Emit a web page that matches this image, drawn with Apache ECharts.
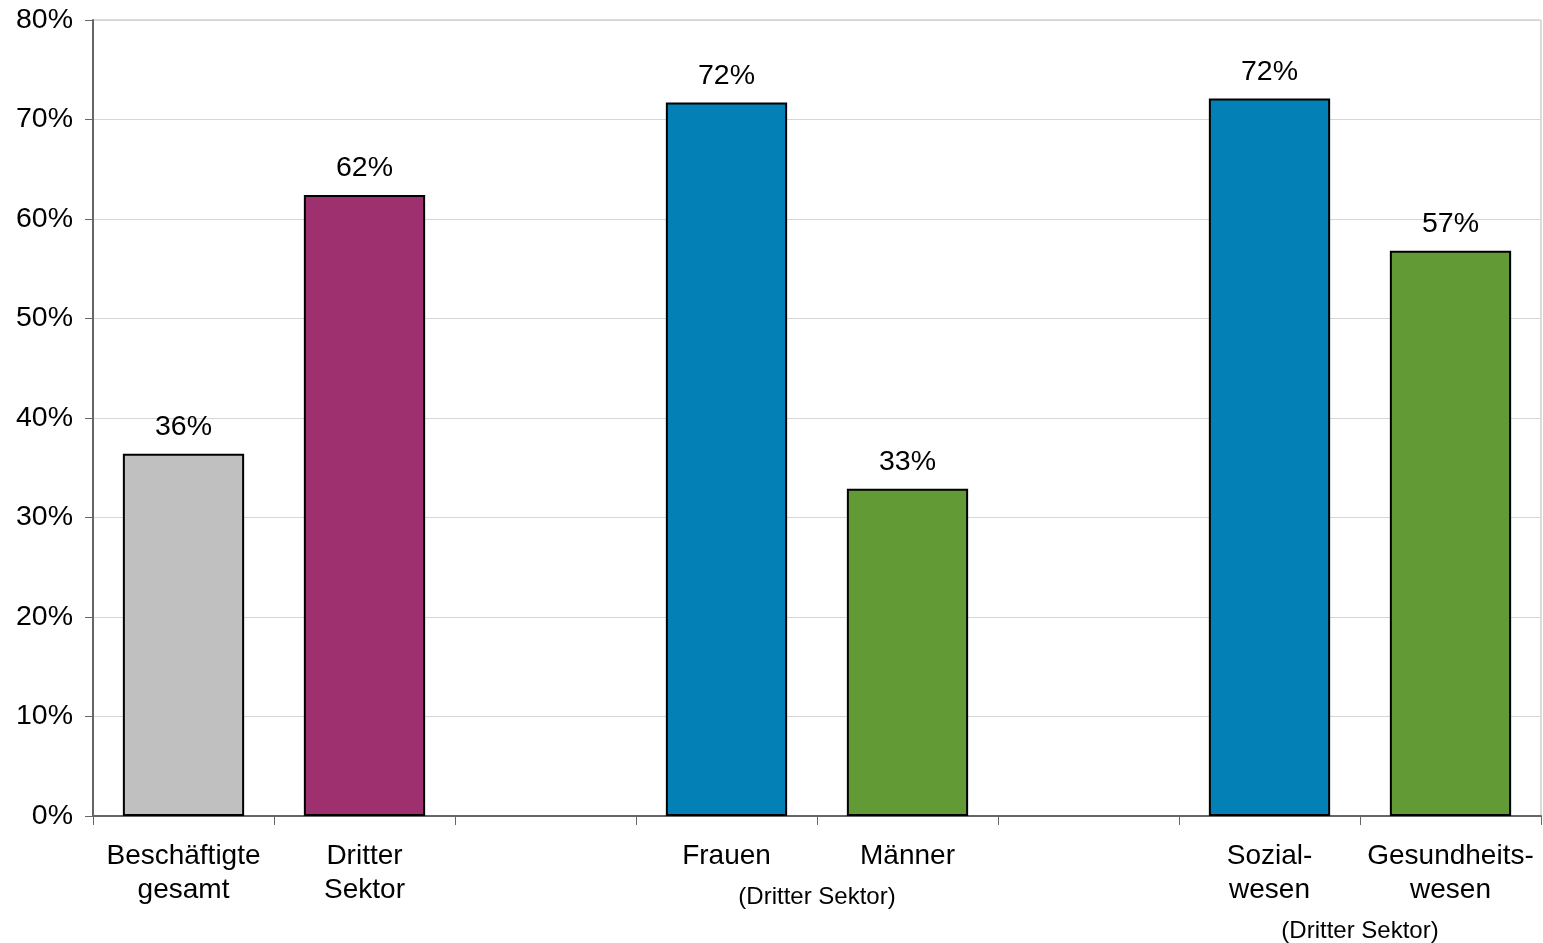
<!DOCTYPE html>
<html>
<head>
<meta charset="utf-8">
<script src="https://cdn.jsdelivr.net/npm/echarts@6/dist/echarts.min.js"></script>
<style>
html,body{margin:0;padding:0;background:#fff;}
#chart{width:1543px;height:943px;}
</style>
</head>
<body>
<div id="chart"></div>
<script>
// Data
const categories = ['Beschäftigte\ngesamt', 'Dritter\nSektor', '', 'Frauen', 'Männer', '', 'Sozial-\nwesen', 'Gesundheits-\nwesen'];
const values = [36.4, 62.4, null, 71.7, 32.9, null, 72.1, 56.8];
const barColors = ['#C0C0C0', '#9E3070', null, '#0380B6', '#629B35', null, '#0380B6', '#629B35'];
const yTicks = { min: 0, max: 80, interval: 10 };
// Group sub-labels: [text, firstCategoryIndex, secondCategoryIndex, line offset]
const groupLabels = [
  ['(Dritter Sektor)', 3, 4, 1],
  ['(Dritter Sektor)', 6, 7, 2]
];

const FONT = '"Liberation Sans", Arial, sans-serif';
const chart = echarts.init(document.getElementById('chart'), null, { renderer: 'canvas' });

const option = {
  backgroundColor: '#ffffff',
  animation: false,
  grid: { left: 93, right: 2, top: 20, bottom: 127, show: true, borderColor: '#b8b8b8', borderWidth: 1, backgroundColor: 'transparent' },
  xAxis: {
    type: 'category',
    data: categories,
    boundaryGap: true,
    axisLine: { show: true, lineStyle: { color: '#666', width: 2 } },
    axisTick: { show: true, interval: 0, alignWithLabel: false, length: 9, lineStyle: { color: '#666', width: 1 } },
    axisLabel: { interval: 0, color: '#000', fontFamily: FONT, fontSize: 28, lineHeight: 34, margin: 23 },
    splitLine: { show: false }
  },
  yAxis: {
    type: 'value',
    min: yTicks.min, max: yTicks.max, interval: yTicks.interval,
    axisLine: { show: true, lineStyle: { color: '#666', width: 2 } },
    axisTick: { show: true, inside: false, length: 8, lineStyle: { color: '#666' } },
    axisLabel: { formatter: '{value}%', color: '#000', fontFamily: FONT, fontSize: 28.5, margin: 20 },
    splitLine: { show: true, lineStyle: { color: '#d6d6d6', width: 1 } }
  },
  series: [{
    type: 'bar',
    barWidth: '67%',
    data: values.map((v, i) => ({
      value: v,
      itemStyle: { color: barColors[i] || '#ccc', borderColor: '#000', borderWidth: 2 }
    })),
    label: {
      show: true, position: 'top', distance: 12,
      color: '#000', fontFamily: FONT, fontSize: 28.5,
      formatter: p => (p.value == null ? '' : Math.round(p.value) + '%')
    }
  }]
};
chart.setOption(option);

// Group sub-labels positioned through the axis scale
const axisY = chart.convertToPixel({ yAxisIndex: 0 }, 0);
const graphics = groupLabels.map(g => {
  const x1 = chart.convertToPixel({ xAxisIndex: 0 }, g[1]);
  const x2 = chart.convertToPixel({ xAxisIndex: 0 }, g[2]);
  return {
    type: 'text',
    x: (x1 + x2) / 2,
    y: axisY + 23 + 34 * g[3] + 12,
    style: { text: g[0], fill: '#000', font: '24px ' + FONT, textAlign: 'center', textVerticalAlign: 'top' }
  };
});
chart.setOption({ graphic: graphics });
</script>
</body>
</html>
